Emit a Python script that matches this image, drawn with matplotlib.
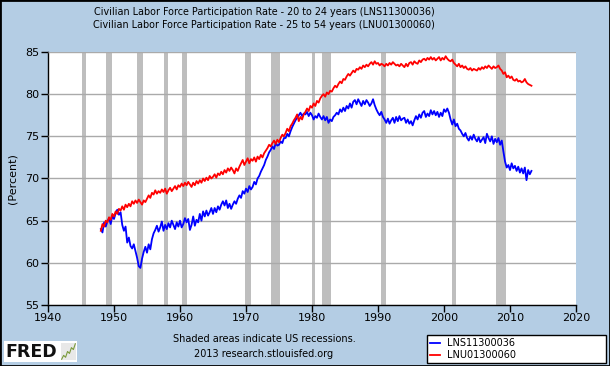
import numpy as np
import matplotlib.pyplot as plt
from matplotlib.patches import Rectangle

# Quarterly readings, 1948Q1 - 2013Q2
start_year = 1948
lns_20_24 = [
    64.0, 63.6, 64.8, 64.3,  64.9, 65.3, 64.6, 65.6,  65.2, 65.9, 66.3, 65.7,
    66.0, 64.5, 63.8, 64.3,  62.4, 63.0, 62.0, 61.7,  62.2, 61.4, 60.6, 59.6,
    59.4, 60.5, 61.3, 61.9,  61.2, 62.2, 61.6, 62.8,  63.5, 63.9, 64.4, 63.7,
    64.2, 64.9, 63.8, 64.5,  64.0, 64.7, 64.2, 65.0,  64.5, 64.0, 64.8, 64.3,
    65.0, 64.2, 64.6, 65.3,  64.8, 65.2, 63.9, 64.5,  65.5, 64.4, 65.1, 64.8,
    65.8, 65.0, 66.1, 65.5,  66.2, 65.6, 66.0, 66.5,  65.8, 66.5, 66.0, 66.7,
    66.3, 66.9, 67.3, 66.8,  67.4, 66.5, 67.0, 66.4,  66.9, 67.3, 67.0, 67.6,
    68.0, 67.7, 68.5, 68.2,  68.8, 68.4, 69.1, 68.7,  69.0, 69.6, 69.3, 70.0,
    70.3, 70.8, 71.2, 71.6,  72.2, 72.6, 73.1, 73.4,  73.8, 73.5, 74.2, 73.9,
    74.0, 74.4, 74.2, 74.8,  74.8, 75.3, 75.0, 75.6,  76.1, 76.5, 76.9, 77.2,
    77.5, 77.8, 77.4, 77.7,  77.6, 77.9, 77.4, 77.8,  77.5, 77.0, 77.4, 77.2,
    77.7, 77.3, 77.0, 77.4,  76.9, 77.3, 76.6, 77.0,  76.8, 77.3, 77.5, 77.8,
    77.6, 78.2, 77.9, 78.4,  78.0, 78.6, 78.3, 78.9,  78.4, 79.1, 79.3, 78.8,
    79.4, 79.0, 78.6, 79.2,  78.8, 79.3, 79.0, 78.6,  78.9, 79.4, 78.7, 78.2,
    77.8, 77.5, 77.9, 77.3,  77.0, 76.6, 77.1, 76.5,  76.9, 77.2, 76.6, 77.3,
    76.8, 77.4, 76.9, 77.1,  77.2, 76.6, 77.0, 76.5,  76.8, 76.3, 76.9, 77.4,
    77.0, 77.6, 77.2, 77.8,  78.0, 77.3, 77.7, 77.4,  78.1, 77.6, 78.0, 77.5,
    77.9, 77.3, 77.8, 77.4,  78.2, 77.9, 78.3, 77.8,  77.0, 76.4, 77.0, 76.2,
    76.5, 75.9, 75.7, 75.3,  75.0, 75.4, 74.8, 74.5,  75.0, 74.6, 75.2, 74.7,
    74.4, 74.9, 74.3, 74.6,  74.9, 74.2, 75.3, 74.8,  74.4, 75.0, 74.1, 74.7,
    74.3, 74.8, 74.0, 74.5,  73.2, 72.0, 71.3, 71.6,  71.0, 71.8, 71.2, 71.5,
    70.9, 71.4, 70.7, 71.2,  70.6, 71.3, 69.8, 71.0,  70.5, 70.9,
]
lnu_25_54 = [
    63.8, 64.6, 64.3, 65.0,  64.8, 65.4, 65.1, 65.8,  65.5, 66.1, 65.8, 66.4,
    66.2, 66.7, 66.3, 66.9,  66.6, 67.0, 66.7, 67.3,  67.0, 67.4, 67.1, 67.5,
    67.2, 66.9, 67.4, 67.2,  67.6, 68.0, 67.7, 68.3,  68.1, 68.6, 68.2, 68.5,
    68.3, 68.7, 68.4, 68.8,  68.2, 68.6, 68.9, 68.5,  68.8, 69.1, 68.7, 69.2,
    69.0, 69.4, 69.1, 69.5,  69.2, 69.6, 69.3, 69.0,  69.5, 69.2, 69.7, 69.4,
    69.8, 69.5, 70.0, 69.7,  70.1, 69.8, 70.3, 70.0,  70.2, 70.5, 70.1, 70.6,
    70.4, 70.8, 70.5, 71.0,  70.7, 71.2, 70.9, 71.3,  71.0, 70.6, 71.2, 70.9,
    71.4, 71.8, 72.2, 71.6,  72.0, 72.4, 71.8, 72.3,  72.1, 72.5, 72.0, 72.6,
    72.3, 72.8, 72.5, 73.0,  73.3, 73.6, 74.0, 73.8,  74.2, 74.5, 74.1, 74.6,
    74.3, 74.8, 75.2, 75.0,  75.4, 75.9, 75.6, 76.2,  76.5, 76.9, 77.2, 77.6,
    76.8, 77.3, 77.0, 77.6,  77.9, 78.3, 78.0, 78.6,  78.4, 78.9, 78.6, 79.2,
    79.0, 79.5, 79.8, 80.0,  79.7, 80.2, 80.0, 80.4,  80.3, 80.7, 81.0, 80.8,
    81.2, 81.5, 81.3, 81.8,  81.7, 82.1, 82.4, 82.2,  82.5, 82.8, 82.6, 83.0,
    82.9, 83.2, 83.0, 83.4,  83.2, 83.5, 83.3, 83.6,  83.8, 83.5, 83.9, 83.6,
    83.7, 83.4, 83.6, 83.5,  83.3, 83.6, 83.4, 83.7,  83.5, 83.8, 83.6, 83.4,
    83.5, 83.3, 83.6, 83.4,  83.2, 83.6, 83.3, 83.7,  83.8, 83.5, 83.9, 83.7,
    83.6, 84.0, 83.8, 84.1,  84.2, 84.0, 84.3, 84.1,  84.4, 84.1, 84.3, 84.0,
    84.2, 84.4, 84.0, 84.3,  84.1, 84.5, 84.2, 84.0,  83.9, 84.1, 83.7, 83.5,
    83.3, 83.6, 83.2, 83.4,  83.1, 83.3, 83.0, 82.9,  83.1, 82.8, 83.0, 82.9,
    82.8, 83.1, 82.9, 83.2,  83.0, 83.3, 83.1, 83.4,  83.2, 83.0, 83.3, 83.1,
    83.2, 83.4, 83.0, 82.8,  82.4, 82.6, 82.0, 82.2,  81.9, 82.1, 81.7, 81.6,
    81.8, 81.5, 81.6, 81.4,  81.5, 81.8, 81.4, 81.2,  81.1, 81.0,
]
# NBER recessions as (start, end) in decimal years
recessions = [
    (1945.08, 1945.75), (1948.83, 1949.75), (1953.5, 1954.38), (1957.58, 1958.25),
    (1960.25, 1961.08), (1969.92, 1970.83), (1973.83, 1975.17), (1980.0, 1980.5),
    (1981.5, 1982.83), (1990.5, 1991.17), (2001.17, 2001.83), (2007.92, 2009.42),
]
# little chart glyph next to the FRED wordmark
logo_line = [1.0, 1.6, 1.3, 2.2, 1.9, 2.8, 2.5, 3.4]

bg = '#b4cde4'
fig = plt.figure(figsize=(6.1, 3.66), dpi=100, facecolor=bg)
ax = fig.add_axes([48/610, 1 - 305/366, 528/610, 253/366])
ax.set_facecolor('white')

for s, e in recessions:
    ax.axvspan(s, e, color='#bebebe', lw=0, zorder=1)

x = start_year + np.arange(len(lns_20_24)) / 4
ax.plot(x, lns_20_24, color='#0000ff', lw=1.3, zorder=3, label='LNS11300036')
x = start_year + np.arange(len(lnu_25_54)) / 4
ax.plot(x, lnu_25_54, color='#ff0000', lw=1.3, zorder=3, label='LNU01300060')

ax.set_xlim(1940, 2020)
ax.set_ylim(55, 85)
ax.set_xticks(range(1940, 2021, 10))
ax.set_yticks(range(55, 86, 5))
ax.grid(axis='y', color='#aaaaaa', lw=1, zorder=2)
ax.set_axisbelow(False)
for sp in ['top', 'right']:
    ax.spines[sp].set_visible(False)
for sp in ['left', 'bottom']:
    ax.spines[sp].set_linewidth(1)
ax.tick_params(labelsize=8, length=5, width=1, direction='out', pad=1)
ax.set_ylabel('(Percent)', fontsize=8, labelpad=6)

cx = 264 / 610
fig.text(cx, 1 - 12/366, 'Civilian Labor Force Participation Rate - 20 to 24 years (LNS11300036)',
         ha='center', va='center', fontsize=6.9)
fig.text(cx, 1 - 25/366, 'Civilian Labor Force Participation Rate - 25 to 54 years (LNU01300060)',
         ha='center', va='center', fontsize=6.9)
fig.text(cx, 1 - 339/366, 'Shaded areas indicate US recessions.', ha='center', va='center', fontsize=7)
fig.text(cx, 1 - 354/366, '2013 research.stlouisfed.org', ha='center', va='center', fontsize=7)

# FRED logo: white box with wordmark and a tiny chart glyph
fig.patches.append(Rectangle((4/610, 1 - 362/366), 73/610, 21/366, transform=fig.transFigure,
                             facecolor='white', edgecolor='none'))
fig.text(5/610, 1 - 352/366, 'FRED', fontsize=12.5, fontweight='bold', ha='left', va='center',
         color='#111111')
lax = fig.add_axes([61/610, 1 - 360/366, 15/610, 17/366])
lax.set_zorder(5)
lax.set_facecolor('#e8e8e8')
lax.plot(range(len(logo_line)), logo_line, color='#7a9a3a', lw=0.8)
lax.set_xticks([])
lax.set_yticks([])
for sp in lax.spines.values():
    sp.set_visible(False)

fig.legend(loc='lower left', bbox_to_anchor=(427/610, 3/366, 179/610, 28/366), mode='expand',
           fontsize=7, frameon=True, fancybox=False, edgecolor='black', framealpha=1,
           handlelength=1.0, borderaxespad=0, labelspacing=0.2, borderpad=0.3)

fig.patches.append(Rectangle((0, 0), 1, 1, transform=fig.transFigure, fill=False,
                             edgecolor='black', lw=2))
fig.savefig('out.png', dpi=100, facecolor=bg)
